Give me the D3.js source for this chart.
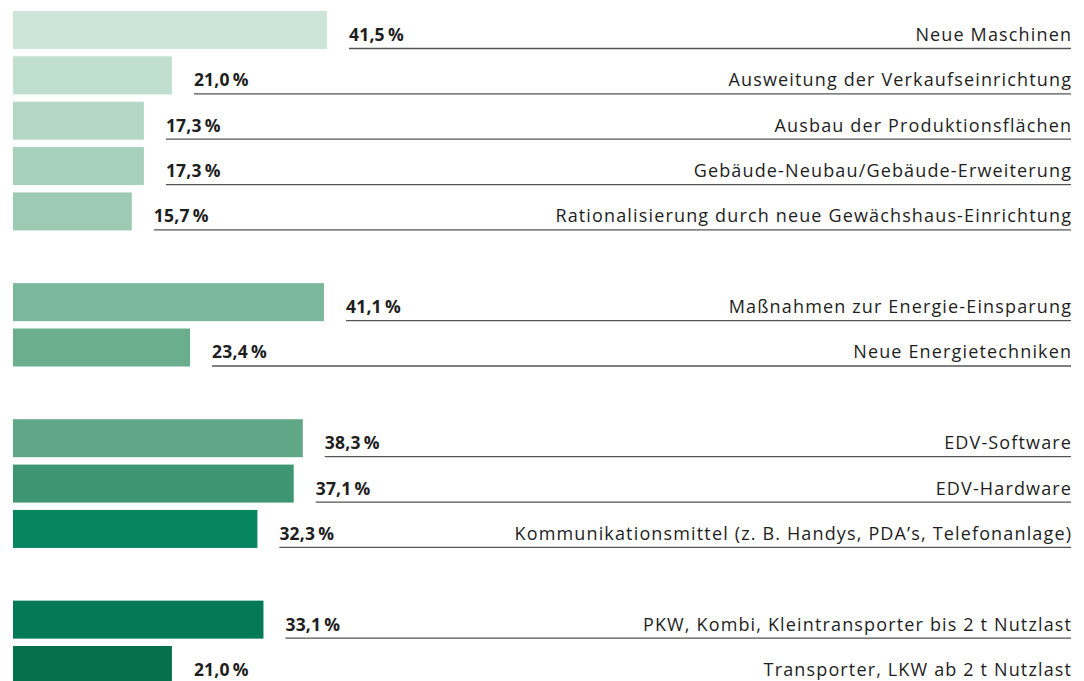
<!DOCTYPE html>
<html>
<head>
<meta charset="utf-8">
<script src="https://cdn.jsdelivr.net/npm/d3@7"></script>
<style>
  body { margin: 0; background: #fff; }
  svg { display: block; font-family: "Open Sans", sans-serif; }
</style>
</head>
<body>
<svg id="chart" width="1084" height="681"></svg>
<script>
// data
const categories = [
  'Neue Maschinen',
  'Ausweitung der Verkaufseinrichtung',
  'Ausbau der Produktionsflächen',
  'Gebäude-Neubau/Gebäude-Erweiterung',
  'Rationalisierung durch neue Gewächshaus-Einrichtung',
  'Maßnahmen zur Energie-Einsparung',
  'Neue Energietechniken',
  'EDV-Software',
  'EDV-Hardware',
  'Kommunikationsmittel (z. B. Handys, PDA’s, Telefonanlage)',
  'PKW, Kombi, Kleintransporter bis 2 t Nutzlast',
  'Transporter, LKW ab 2 t Nutzlast'
];
const values = [41.5, 21.0, 17.3, 17.3, 15.7, 41.1, 23.4, 38.3, 37.1, 32.3, 33.1, 21.0];
const groups = [0, 0, 0, 0, 0, 1, 1, 2, 2, 2, 3, 3];

const palette = ['#cce5d8', '#c1dfcf', '#b4d8c5', '#a8d1bb', '#9dcab2', '#7bb89b',
                 '#6bae8e', '#5fa786', '#3d9572', '#06855f', '#037a55', '#05704b'];

const svg = d3.select('#chart');
const de = d3.formatLocale({decimal: ',', thousands: '.', grouping: [3], currency: ['', ' €']});
const fmt = v => de.format('.1f')(v) + '\u2009%';

const rows = categories.map((c, i) => ({name: c, value: values[i], slot: i + groups[i], color: palette[i]}));

// one empty slot between groups
const y = d3.scaleBand()
  .domain(d3.range(15))
  .range([11, 684])
  .paddingInner(0.162)
  .paddingOuter(0);

const x = d3.scaleLinear().domain([0, 41.5]).range([13, 327]);
const right = 1071;
const gap = 22;
const ls = 1.15;

const row = svg.selectAll('g.row')
  .data(rows)
  .enter()
  .append('g')
  .attr('class', 'row')
  .attr('transform', d => `translate(0, ${y(d.slot)})`);

row.append('rect')
  .attr('x', x(0))
  .attr('y', 0)
  .attr('width', d => x(d.value) - x(0))
  .attr('height', y.bandwidth())
  .style('fill', d => d.color);

row.append('line')
  .attr('x1', d => x(d.value) + gap)
  .attr('x2', right)
  .attr('y1', y.bandwidth() - 0.5)
  .attr('y2', y.bandwidth() - 0.5)
  .style('stroke', '#555')
  .style('stroke-width', 1.3);

row.append('text')
  .attr('x', d => x(d.value) + gap)
  .attr('y', 30)
  .style('font-size', '17.5px')
  .style('font-weight', 700)
  .style('letter-spacing', '0.2px')
  .style('fill', '#1e1e1e')
  .text(d => fmt(d.value));

row.append('text')
  .attr('x', right + ls)
  .attr('y', 30)
  .attr('text-anchor', 'end')
  .style('font-size', '18px')
  .style('letter-spacing', ls + 'px')
  .style('fill', '#1e1e1e')
  .text(d => d.name);
</script>
</body>
</html>
